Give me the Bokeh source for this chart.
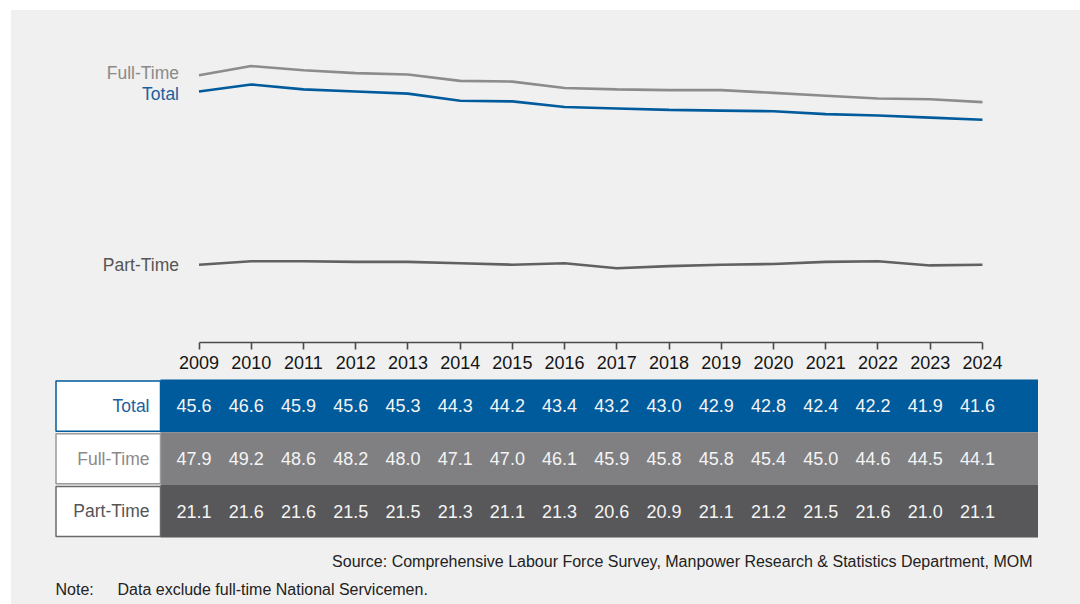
from bokeh.plotting import figure
from bokeh.layouts import column
from bokeh.models import Range1d, FixedTicker
from bokeh.core.properties import value
from bokeh.embed import file_html
from bokeh.resources import INLINE

# ---------------- data ----------------
years = list(range(2009, 2025))
total = [45.6, 46.6, 45.9, 45.6, 45.3, 44.3, 44.2, 43.4, 43.2, 43.0, 42.9, 42.8, 42.4, 42.2, 41.9, 41.6]
full_time = [47.9, 49.2, 48.6, 48.2, 48.0, 47.1, 47.0, 46.1, 45.9, 45.8, 45.8, 45.4, 45.0, 44.6, 44.5, 44.1]
part_time = [21.1, 21.6, 21.6, 21.5, 21.5, 21.3, 21.1, 21.3, 20.6, 20.9, 21.1, 21.2, 21.5, 21.6, 21.0, 21.1]
series_names = ["Total", "Full-Time", "Part-Time"]
source_text = "Source: Comprehensive Labour Force Survey, Manpower Research & Statistics Department, MOM"
note_label = "Note:"
note_text = "Data exclude full-time National Servicemen."

# ---------------- styles ----------------
BG = "#f0f0f0"
BLUE = "#005b9c"
BLUE_TXT = "#1d5f9e"
GRAY = "#808083"
GRAY_LINE = "#8c8c8c"
GRAY_TXT = "#8a8a8a"
DARK = "#58585a"
DARK_LINE = "#616161"
DARK_TXT = "#555555"
FONT = value("Liberation Sans")

OX, OY = 11, 10          # where the grey panel starts in the picture
W = 1069
H1, H2 = 366, 228
PX_PER_YEAR = 52.23
X_START = years[0] - (198.5 - OX) / PX_PER_YEAR
X_END = X_START + W / PX_PER_YEAR


def xpx(pic_x):
    """picture pixel -> year axis coordinate (layout helper)"""
    return X_START + (pic_x - OX) / PX_PER_YEAR


x_range = Range1d(X_START, X_END)

# ---------------- top: line chart ----------------
PX_PER_UNIT = 7.07
AXIS_Y = 342
y_top = total[0] + (91 - OY) / PX_PER_UNIT
y_bot = total[0] - (AXIS_Y - 91) / PX_PER_UNIT
p1 = figure(width=W, height=H1, x_range=x_range, y_range=Range1d(y_bot, y_top),
            output_backend="svg", toolbar_location=None,
            min_border_left=0, min_border_right=0, min_border_top=0,
            min_border_bottom=H1 - (AXIS_Y - OY),
            y_axis_location=None, background_fill_color=BG, border_fill_color=BG,
            outline_line_color=None)
p1.grid.visible = False
ax = p1.xaxis[0]
ax.ticker = FixedTicker(ticks=years)
ax.bounds = (years[0], years[-1])
ax.major_tick_in = 0
ax.major_tick_out = 7
ax.minor_tick_line_color = None
ax.axis_line_color = "#4a4a4a"
ax.axis_line_width = 1.6
ax.major_tick_line_color = "#4a4a4a"
ax.major_tick_line_width = 1.6
ax.major_label_text_font = "Liberation Sans"
ax.major_label_text_font_size = "18px"
ax.major_label_text_color = "#141414"
ax.major_label_standoff = 6

p1.line(years, full_time, line_color=GRAY_LINE, line_width=2.6)
p1.line(years, total, line_color=BLUE, line_width=2.6)
p1.line(years, part_time, line_color=DARK_LINE, line_width=2.6)

for vals, name, col, dy in [(full_time, "Full-Time", GRAY_TXT, -2),
                            (total, "Total", BLUE_TXT, 2),
                            (part_time, "Part-Time", DARK_TXT, 0)]:
    p1.text(x=[years[0]], y=[vals[0]], text=[name], text_align="right", text_baseline="middle",
            x_offset=-20, y_offset=dy, text_font=FONT, text_font_size="17.5px", text_color=col)

# ---------------- bottom: table + notes ----------------
ROW_PX = 52.7
TABLE_TOP = 379
TOP2 = OY + H1
p2 = figure(width=W, height=H2, x_range=x_range,
            y_range=Range1d((TOP2 + H2 - TABLE_TOP) / ROW_PX, (TOP2 - TABLE_TOP) / ROW_PX),
            output_backend="svg", toolbar_location=None,
            min_border_left=0, min_border_right=0, min_border_top=0, min_border_bottom=0,
            x_axis_location=None, y_axis_location=None,
            background_fill_color=BG, border_fill_color=BG, outline_line_color=None)
p2.grid.visible = False

rows = list(range(len(series_names)))
fills = [BLUE, GRAY, DARK]
p2.quad(left=xpx(160), right=xpx(1037.5), top=rows, bottom=[r + 1 for r in rows],
        fill_color=fills, line_color=None)
p2.quad(left=xpx(55.5), right=xpx(160), top=[r + 0.03 for r in rows], bottom=[r + 0.98 for r in rows],
        fill_color="white", line_color=[BLUE, "#9a9a9a", "#6a6a6a"], line_width=1.5)

for r, vals in zip(rows, [total, full_time, part_time]):
    p2.text(x=years, y=[r + 0.5] * len(years), text=[f"{v:.1f}" for v in vals],
            text_align="center", text_baseline="middle", x_offset=-5,
            text_font=FONT, text_font_size="18px", text_color="#f4f4f4")

p2.text(x=[xpx(160)] * 3, y=[r + 0.5 for r in rows], text=series_names,
        text_align="right", text_baseline="middle", x_offset=-11,
        text_font=FONT, text_font_size="17.5px", text_color=[BLUE_TXT, GRAY_TXT, DARK_TXT])

p2.text(x=[xpx(1032)], y=[(561 - TABLE_TOP) / ROW_PX], text=[source_text],
        text_align="right", text_baseline="middle",
        text_font=FONT, text_font_size="16px", text_color="#222222")
p2.text(x=[xpx(55)], y=[(589 - TABLE_TOP) / ROW_PX], text=[note_label],
        text_align="left", text_baseline="middle",
        text_font=FONT, text_font_size="16px", text_color="#222222")
p2.text(x=[xpx(117)], y=[(589 - TABLE_TOP) / ROW_PX], text=[note_text],
        text_align="left", text_baseline="middle",
        text_font=FONT, text_font_size="16px", text_color="#222222")

layout = column(p1, p2, margin=(OY, 0, 0, OX), spacing=0, styles={"background-color": BG})
open("out.html", "w").write(file_html(layout, INLINE))
